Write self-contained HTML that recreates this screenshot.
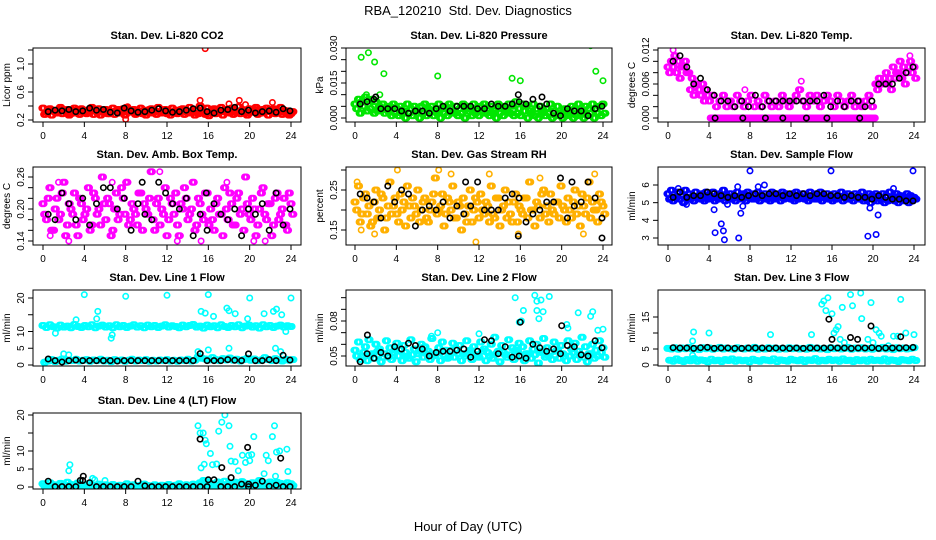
<!DOCTYPE html>
<html><head><meta charset="utf-8">
<style>
html,body{margin:0;padding:0;background:#fff;}
svg{display:block;font-family:"Liberation Sans",sans-serif;}
</style></head>
<body>
<svg id="chart" width="936" height="540" viewBox="0 0 936 540" xmlns="http://www.w3.org/2000/svg">
<rect width="936" height="540" fill="#fff"/>
<text x="468" y="15" font-size="13" text-anchor="middle">RBA_120210&#160; Std. Dev. Diagnostics</text>
<text x="468" y="531" font-size="13" text-anchor="middle">Hour of Day (UTC)</text>
</svg>
<script>
// ---- data ----
const hourTicks = [0,4,8,12,16,20,24];
const co2A = [0.37,0.31,0.36,0.34,0.30,0.38,0.33,0.35,0.29,0.37,0.32,0.36,0.34,0.30,0.38,0.33,0.36,0.31,0.35,0.29,0.37,0.33,0.30,0.36,0.38,0.32,0.35,0.30,0.37,0.34,0.31,0.36,0.33,0.38,0.30,0.35,0.32,0.37,0.34,0.30,0.36,0.33,0.38,0.31,0.35,0.40,0.33,0.37,0.30,0.36,0.34,0.38,0.32,0.35,0.37,0.31,0.39,0.34,0.30,0.36,0.33,0.38,0.31,0.35,0.37,0.32,0.36,0.30,0.38,0.34,0.33,0.29];
const co2B = [0.28,0.33,0.27,0.31,0.35,0.29,0.32,0.27,0.34,0.30,0.28,0.33,0.29,0.35,0.28,0.31,0.27,0.34,0.29,0.32,0.28,0.35,0.30,0.27,0.31,0.34,0.28,0.33,0.29,0.27,0.35,0.30,0.28,0.32,0.34,0.29,0.27,0.31,0.29,0.35,0.28,0.30,0.33,0.27,0.29,0.32,0.28,0.26,0.34,0.29,0.31,0.27,0.35,0.30,0.28,0.33,0.29,0.32,0.27,0.31,0.35,0.28,0.30,0.33,0.27,0.34,0.29,0.31,0.28,0.30,0.27,0.32];
const co2K = [0.32,0.34,0.33,0.35,0.32,0.33,0.37,0.34,0.35,0.31,0.30,0.37,0.33,0.31,0.32,0.34,0.36,0.33,0.31,0.32,0.34,0.36,0.37,0.32,0.30,0.34,0.35,0.38,0.32,0.34,0.30,0.32,0.33,0.31,0.36,0.33];
const co2Out = [[15.7,1.22],[8,0.21],[15.2,0.48],[18,0.43],[19,0.48],[22.2,0.45],[19.6,0.42],[8.2,0.39]];
const co2OutK = [];

const presA = [0.006,0.008,0.007,0.009,0.006,0.008,0.007,0.005,0.006,0.004,0.005,0.006,0.004,0.005,0.003,0.006,0.004,0.005,0.003,0.005,0.006,0.004,0.005,0.003,0.006,0.004,0.005,0.006,0.003,0.005,0.004,0.006,0.005,0.004,0.006,0.003,0.005,0.006,0.004,0.005,0.003,0.006,0.005,0.004,0.006,0.005,0.007,0.004,0.006,0.005,0.003,0.006,0.004,0.005,0.003,0.004,0.006,0.003,0.005,0.002,0.004,0.003,0.005,0.004,0.006,0.003,0.005,0.004,0.006,0.004,0.005,0.006];
const presB = [0.004,0.002,0.005,0.003,0.004,0.002,0.003,0.004,0.002,0.003,0.001,0.002,0.001,0.002,0.000,0.002,0.001,0.003,0.000,0.002,0.001,0.003,0.001,0.002,0.000,0.002,0.001,0.003,0.002,0.001,0.002,0.000,0.003,0.001,0.002,0.001,0.003,0.002,0.001,0.002,0.000,0.002,0.001,0.003,0.002,0.001,0.002,0.001,0.003,0.000,0.002,0.001,0.000,0.002,0.001,0.002,0.000,0.001,0.002,0.000,0.001,0.002,0.000,0.001,0.002,0.000,0.001,0.002,0.000,0.002,0.001,0.002];
const presK = [0.006,0.007,0.008,0.004,0.004,0.004,0.003,0.002,0.003,0.003,0.002,0.004,0.005,0.003,0.005,0.005,0.005,0.004,0.004,0.006,0.005,0.005,0.006,0.007,0.006,0.008,0.005,0.006,0.002,0.001,0.004,0.003,0.003,0.001,0.004,0.005];
const presOut = [[0.6,0.026],[1.3,0.028],[1.9,0.024],[2.8,0.019],[8.0,0.018],[15.2,0.017],[16,0.016],[22.8,0.031],[23.3,0.020],[24,0.016],[1.1,0.010],[2.4,0.010]];
const presOutK = [[15.8,0.010],[18.1,0.009],[2,0.009]];

const tempA = [0.009,0.010,0.011,0.010,0.009,0.010,0.008,0.007,0.006,0.005,0.006,0.005,0.003,0.004,0.002,0.003,0.004,0.002,0.003,0.002,0.004,0.003,0.002,0.003,0.004,0.002,0.003,0.002,0.004,0.003,0.002,0.003,0.002,0.004,0.003,0.002,0.003,0.004,0.005,0.003,0.002,0.004,0.003,0.004,0.002,0.003,0.004,0.003,0.002,0.004,0.003,0.002,0.003,0.004,0.002,0.003,0.002,0.003,0.004,0.002,0.006,0.007,0.006,0.008,0.007,0.009,0.008,0.010,0.009,0.008,0.010,0.009];
const tempB = [0.008,0.009,0.008,0.007,0.009,0.008,0.005,0.004,0.006,0.004,0.003,0.004,0,0,0,0,0,0,0,0,0,0,0,0,0,0,0,0,0,0,0,0,0,0,0,0,0,0,0,0,0,0,0,0,0,0,0,0,0,0,0,0,0,0,0,0,0,0,0,0,0.005,0.006,0.007,0.006,0.005,0.007,0.008,0.007,0.006,0.009,0.008,0.007];
const tempK = [0.010,0.011,0.009,0.006,0.007,0.005,0.004,0.003,0.003,0.002,0.003,0.002,0.004,0.002,0.003,0.003,0.003,0.003,0.003,0.003,0.003,0.003,0.004,0.002,0.003,0.002,0.003,0.003,0.002,0.003,0.006,0.006,0.006,0.007,0.008,0.009];
const tempOut = [[0.5,0.012],[3.8,0.005],[13,0.0065],[7.5,0.005],[23.6,0.011]];
const tempOutK = [[4.6,0],[7.3,0],[9.5,0],[11.2,0],[13.5,0],[15.5,0],[18.7,0]];

const ambA = [0.21,0.18,0.24,0.16,0.22,0.19,0.25,0.17,0.20,0.23,0.15,0.21,0.19,0.24,0.17,0.22,0.20,0.26,0.18,0.21,0.16,0.23,0.19,0.22,0.25,0.18,0.20,0.17,0.23,0.21,0.19,0.27,0.16,0.22,0.20,0.24,0.18,0.21,0.23,0.15,0.20,0.22,0.19,0.25,0.17,0.21,0.18,0.23,0.20,0.16,0.22,0.19,0.24,0.18,0.21,0.17,0.23,0.20,0.26,0.19,0.22,0.15,0.20,0.24,0.18,0.21,0.17,0.23,0.19,0.22,0.16,0.21];
const ambB = [0.19,0.22,0.16,0.20,0.18,0.23,0.15,0.21,0.19,0.17,0.22,0.18,0.20,0.16,0.23,0.19,0.17,0.21,0.22,0.15,0.20,0.18,0.24,0.19,0.17,0.21,0.19,0.23,0.16,0.20,0.22,0.18,0.21,0.17,0.19,0.15,0.22,0.19,0.17,0.21,0.24,0.18,0.20,0.16,0.22,0.19,0.23,0.17,0.18,0.21,0.19,0.15,0.20,0.23,0.17,0.22,0.19,0.16,0.21,0.18,0.20,0.17,0.23,0.19,0.21,0.15,0.22,0.18,0.20,0.17,0.23,0.19];
const ambK = [0.19,0.18,0.23,0.21,0.18,0.22,0.17,0.21,0.24,0.24,0.20,0.22,0.16,0.21,0.19,0.18,0.25,0.23,0.21,0.20,0.22,0.15,0.19,0.16,0.21,0.19,0.18,0.20,0.15,0.20,0.19,0.21,0.16,0.23,0.17,0.20];
const ambOut = [[0.7,0.15],[1.5,0.25],[2.5,0.14],[6.7,0.25],[8,0.25],[11.3,0.27],[13,0.14],[15.3,0.14],[17.8,0.25],[20.4,0.14],[21.5,0.14],[0.6,0.24]];
const ambOutK = [[9.6,0.25],[15.8,0.23]];

const rhA = [0.22,0.26,0.19,0.24,0.21,0.17,0.25,0.20,0.23,0.18,0.27,0.21,0.19,0.24,0.22,0.26,0.18,0.21,0.25,0.20,0.23,0.17,0.22,0.28,0.20,0.24,0.19,0.22,0.26,0.18,0.21,0.23,0.17,0.25,0.20,0.22,0.24,0.19,0.21,0.26,0.18,0.23,0.20,0.25,0.22,0.17,0.24,0.21,0.19,0.23,0.27,0.20,0.22,0.18,0.25,0.21,0.24,0.19,0.22,0.26,0.20,0.23,0.18,0.25,0.21,0.24,0.19,0.27,0.22,0.20,0.24,0.21];
const rhB = [0.20,0.17,0.23,0.19,0.16,0.22,0.18,0.24,0.15,0.21,0.19,0.23,0.17,0.20,0.16,0.21,0.23,0.19,0.17,0.22,0.18,0.20,0.24,0.19,0.21,0.16,0.23,0.20,0.18,0.22,0.15,0.19,0.21,0.17,0.23,0.18,0.20,0.22,0.17,0.19,0.23,0.16,0.21,0.18,0.19,0.22,0.17,0.20,0.23,0.18,0.20,0.16,0.21,0.24,0.19,0.17,0.20,0.22,0.18,0.21,0.17,0.20,0.22,0.19,0.16,0.21,0.23,0.18,0.20,0.17,0.22,0.19];
const rhK = [0.24,0.23,0.22,0.18,0.26,0.22,0.25,0.24,0.16,0.20,0.21,0.20,0.22,0.18,0.21,0.19,0.21,0.27,0.20,0.20,0.20,0.23,0.24,0.23,0.17,0.19,0.20,0.22,0.22,0.28,0.18,0.21,0.22,0.27,0.23,0.18];
const rhOut = [[11.7,0.12],[15.8,0.14],[0.2,0.27],[4.1,0.30],[8.1,0.30],[9.3,0.29],[13,0.29],[23.2,0.29],[17.9,0.28],[1.9,0.14],[0.6,0.15],[22.1,0.14]];
const rhOutK = [[23.9,0.13],[15.8,0.135],[10.7,0.27],[21,0.27]];

const flowA = [5.5,5.7,5.3,5.6,5.4,5.7,5.5,5.3,5.6,5.4,5.5,5.6,5.4,5.6,5.3,5.5,5.7,5.4,5.5,5.3,5.6,5.4,5.5,5.6,5.3,5.5,5.6,5.4,5.5,5.3,5.6,5.5,5.4,5.6,5.5,5.3,5.5,5.6,5.4,5.5,5.3,5.6,5.4,5.5,5.6,5.4,5.5,5.3,5.5,5.4,5.6,5.4,5.5,5.3,5.5,5.4,5.6,5.3,5.5,5.4,5.5,5.3,5.5,5.4,5.6,5.3,5.5,5.4,5.3,5.5,5.4,5.3];
const flowB = [5.2,5.1,5.3,5.2,5.0,5.3,5.2,5.1,5.3,5.2,5.1,5.2,5.3,5.1,5.2,5.3,5.1,5.2,5.2,5.1,5.3,5.2,5.1,5.3,5.2,5.2,5.1,5.3,5.2,5.1,5.2,5.3,5.1,5.2,5.3,5.2,5.1,5.2,5.3,5.2,5.1,5.3,5.2,5.2,5.1,5.3,5.2,5.1,5.2,5.3,5.1,5.2,5.2,5.1,5.3,5.2,5.1,5.2,5.0,5.2,5.1,5.2,5.0,5.1,5.2,5.1,5.0,5.2,5.1,5.0,5.1,5.2];
const flowK = [5.3,5.6,5.3,5.4,5.4,5.6,5.5,5.4,5.3,5.4,5.3,5.4,5.5,5.4,5.5,5.5,5.4,5.5,5.4,5.5,5.4,5.5,5.5,5.4,5.4,5.3,5.4,5.3,5.3,5.2,5.4,5.3,5.2,5.2,5.1,5.1];
const flowOut = [[4.5,4.6],[4.6,3.3],[5.2,3.8],[5.4,3.4],[5.5,2.9],[5.8,4.9],[6.9,3.0],[7.1,4.4],[7.3,4.8],[8,6.8],[9.4,6.0],[15.9,6.8],[19.5,3.1],[19.7,4.7],[20.3,3.2],[20.5,4.3],[23.9,6.8],[6.8,5.9],[22,5.8],[1.8,4.9],[1.0,5.8],[8.8,5.9]];
const flowOutK = [];

const l1A = [11.8,11.2,12.0,11.4,11.0,11.9,11.3,11.6,11.1,12.1,11.5,11.2,11.8,11.4,12.0,11.1,11.6,11.9,11.3,11.7,11.1,12.0,11.4,11.8,11.2,11.6,12.0,11.3,11.7,11.1,11.9,11.4,11.8,11.2,11.6,12.0,11.3,11.7,11.5,11.1,11.9,11.4,11.8,12.1,11.3,11.6,11.0,11.9,11.4,11.7,11.1,12.0,11.5,11.2,11.8,11.4,12.0,11.1,11.6,11.9,11.3,11.7,11.0,12.0,11.4,11.8,11.2,11.6,11.9,11.3,11.7,11.5];
const l1B = [0.8,1.2,1.6,1.0,1.4,1.8,1.1,1.5,1.3,1.7,1.2,1.4,1.6,1.1,1.5,1.3,1.7,1.2,1.4,1.0,1.6,1.3,1.5,1.1,1.4,1.7,1.2,1.5,1.3,1.6,1.1,1.4,1.2,1.5,1.3,1.6,1.2,1.4,1.1,1.5,1.3,1.7,1.2,1.4,2.5,2.0,1.8,1.5,2.2,1.6,1.3,1.9,1.5,2.1,1.4,1.7,1.2,1.6,2.0,1.4,1.8,1.3,1.5,2.2,1.6,1.3,1.9,1.5,1.2,1.7,1.4,1.6];
const l1K = [1.8,1.3,0.9,1.3,1.5,1.3,1.3,1.3,1.3,1.3,1.2,1.3,1.3,1.3,1.3,1.3,1.3,1.3,1.3,1.3,1.3,1.3,3.4,1.3,1.3,1.3,1.6,1.4,1.3,3.3,1.3,1.3,1.6,1.3,2.9,1.5];
const l1Out = [[4,21],[8,20.5],[12,20.8],[16,21],[20,20],[24,20],[5.3,16],[15.3,16],[15.7,15.5],[17.8,17],[18,16.2],[18.6,15.3],[21.4,15.3],[22.3,16],[22.6,16.7],[23.1,15],[3.2,13.5],[5.2,13.8],[6.7,9],[6.6,8],[1.2,9.5],[23.5,10],[16.5,14.5],[19.8,13.8],[2,3.3],[2.5,3],[15,4],[16,4.5],[18,5],[22.5,5],[23,4]];
const l1OutK = [];

const l2A = [0.055,0.062,0.050,0.058,0.064,0.052,0.060,0.056,0.049,0.063,0.057,0.053,0.061,0.055,0.059,0.050,0.064,0.056,0.052,0.060,0.058,0.054,0.065,0.051,0.057,0.062,0.055,0.049,0.061,0.056,0.059,0.052,0.063,0.055,0.058,0.050,0.062,0.056,0.053,0.060,0.066,0.054,0.059,0.051,0.064,0.057,0.055,0.061,0.058,0.052,0.063,0.056,0.060,0.054,0.065,0.057,0.053,0.062,0.055,0.059,0.050,0.063,0.056,0.061,0.054,0.066,0.058,0.052,0.060,0.055,0.063,0.057];
const l2B = [0.050,0.047,0.053,0.046,0.051,0.048,0.054,0.045,0.052,0.049,0.047,0.055,0.050,0.046,0.053,0.048,0.051,0.045,0.054,0.049,0.052,0.047,0.050,0.053,0.046,0.051,0.048,0.055,0.049,0.052,0.046,0.050,0.053,0.047,0.051,0.049,0.054,0.046,0.050,0.048,0.052,0.045,0.053,0.049,0.051,0.047,0.054,0.050,0.046,0.052,0.048,0.051,0.044,0.053,0.049,0.050,0.047,0.054,0.048,0.052,0.046,0.050,0.053,0.047,0.051,0.049,0.045,0.052,0.048,0.050,0.053,0.049];
const l2K = [0.045,0.052,0.048,0.053,0.050,0.058,0.056,0.061,0.059,0.056,0.050,0.053,0.054,0.054,0.055,0.056,0.049,0.054,0.064,0.063,0.052,0.058,0.049,0.050,0.048,0.060,0.057,0.054,0.056,0.052,0.059,0.058,0.051,0.050,0.063,0.057];
const l2Out = [[15.5,0.100],[17.4,0.102],[17.6,0.097],[18,0.098],[18.2,0.088],[18.8,0.101],[16.3,0.089],[17.6,0.089],[17.8,0.082],[21.6,0.087],[22.8,0.084],[23,0.088],[16.1,0.080],[15.9,0.079],[20.5,0.077],[20.6,0.074],[23.5,0.072],[24,0.073],[8,0.070],[12,0.069],[7.4,0.067]];
const l2OutK = [[16,0.079],[1.2,0.068],[20,0.076]];

const l3A = [5.2,5.0,5.4,4.9,5.3,5.1,5.5,5.0,5.2,4.8,5.4,5.1,5.3,4.9,5.2,5.5,5.0,5.3,5.1,4.9,5.4,5.2,5.0,5.3,5.1,5.5,4.9,5.2,5.0,5.4,5.1,5.3,4.9,5.2,5.0,5.4,5.1,5.3,5.0,5.2,4.9,5.5,5.1,5.3,5.0,5.2,4.8,5.4,5.1,5.3,5.0,5.2,5.5,4.9,5.3,5.1,5.4,5.0,5.2,4.9,5.3,5.1,5.5,5.0,5.2,4.8,5.4,5.1,5.3,5.0,5.2,5.4];
const l3B = [1.5,1.2,1.9,1.4,1.1,1.7,1.3,2.0,1.2,1.6,1.4,1.0,1.8,1.3,1.5,1.1,1.7,1.4,1.9,1.2,1.6,1.3,1.5,1.0,1.8,1.4,1.2,1.7,1.5,1.3,1.9,1.1,1.6,1.4,1.2,1.8,1.5,1.3,1.7,1.1,1.6,1.4,2.0,1.2,1.5,1.3,1.8,1.4,1.6,1.2,1.9,1.4,1.5,1.1,1.7,1.3,1.6,1.2,1.8,1.4,1.5,1.3,1.9,1.2,1.6,1.4,1.1,1.7,1.5,1.3,1.8,1.4];
const l3K = [5.4,5.3,5.3,5.2,5.4,5.5,5.2,5.3,5.3,5.2,5.2,5.3,5.3,5.3,5.2,5.3,5.3,5.2,5.3,5.2,5.3,5.3,5.3,5.4,5.3,5.3,5.2,5.3,5.3,5.4,5.2,5.3,5.3,5.3,5.4,5.5];
const l3Out = [[15,19],[15.2,20],[15.4,17],[15.6,21],[16,16],[16.2,10],[16.4,11],[16.6,12],[17,18],[17.8,22],[18,18.5],[18.8,22.5],[18.9,14.5],[19.5,8],[20,7],[20.3,11],[20.6,10],[19.8,19.5],[20.8,9],[21.5,6],[22,9],[22.4,9],[22.7,20.5],[23.2,10],[24,9.5],[2.5,10.3],[2.4,7.5],[4,10],[10,9.5],[14,9.5],[2.4,3],[16.8,8],[17.2,7]];
const l3OutK = [[15.7,14.3],[16,8],[17.8,8.6],[18.5,8],[19.8,12.2],[22.7,8.8]];

const l4A = [0.9,0.4,1.2,0.6,0.3,1.0,0.5,1.3,0.7,0.4,1.1,0.6,0.3,0.9,0.5,0.2,0.8,0.4,0.6,0.3,0.7,0.2,0.5,0.4,0.9,0.3,0.6,0.2,0.5,0.8,0.4,0.3,0.6,0.2,0.5,0.4,0.7,0.3,0.5,0.9,0.4,0.6,0.3,0.8,0.5,1.2,1.8,1.5,1.0,0.7,1.4,0.9,1.6,0.6,1.1,1.3,0.8,1.5,1.0,0.7,1.2,0.9,1.8,0.6,1.1,1.4,0.8,1.3,1.0,0.7,1.2,0.9];
const l4B = [0.3,0.1,0.5,0.2,0.0,0.4,0.1,0.3,0.2,0.0,0.4,0.1,0.2,0.0,0.3,0.1,0.2,0.0,0.3,0.1,0.2,0.0,0.1,0.2,0.0,0.1,0.2,0.0,0.1,0.3,0.0,0.1,0.2,0.0,0.1,0.2,0.0,0.1,0.3,0.0,0.2,0.1,0.0,0.2,0.1,0.4,0.2,0.5,0.3,0.1,0.4,0.2,0.6,0.3,0.1,0.5,0.2,0.4,0.3,0.1,0.5,0.2,0.4,0.1,0.3,0.6,0.2,0.4,0.1,0.3,0.2,0.4];
const l4K = [1.6,0.1,0.1,0.1,0.1,1.8,1.2,0.1,0.1,0.1,0.1,0.1,0.1,1.6,0.3,0.1,0.1,0.1,0.1,0.1,0.1,0.1,0.1,0.1,2.0,0.1,0.1,0.1,0.8,0.1,0.5,1.6,0.2,0.5,0.1,0.1];
const l4Out = [[2.6,6.2],[2.5,4.5],[4.8,2.4],[5,2],[6,1.8],[15,17],[15.2,15],[15.5,15],[15.7,13],[15.8,12],[16.2,9.3],[15.3,5.3],[15.6,6.3],[16.4,6.2],[16.8,6.4],[17,15.5],[17.3,18],[17.6,20],[18,17],[18.1,11.3],[18.2,7.2],[18.6,7],[18.9,4.5],[19.3,8.8],[19.6,6.8],[19.9,8.8],[20,7.3],[20.2,9],[20.4,14],[21.6,8.8],[21.8,7.3],[22.2,14],[22.4,17],[22.6,9.7],[22.9,10],[23.6,10.5],[23.7,4.3],[21.4,3.7],[22.5,3]];
const l4OutK = [[15.2,13.3],[16,2],[17.3,5.4],[18.2,2.6],[19.8,11],[23,8],[3.9,3],[3.6,1.8],[19.9,0.8]];

// ---- layout ----
const cols=[{L:33,R:301,x0:43,x24:291},{L:346,R:612,x0:355,x24:603},{L:658,R:925,x0:668,x24:914}];
const rows=[{T:48,B:122},{T:167,B:245},{T:290,B:366},{T:413,B:489}];
const panels=[
 {name:'co2',title:'Stan. Dev. Li-820 CO2',ylab:'Licor ppm',c:0,r:0,col:'#ff0000',v1:0.2,p1:120,v2:1.0,p2:64,ticks:[0.2,0.4,0.6,0.8,1.0,1.2],labels:['0.2','','0.6','','1.0',''],A:co2A,B:co2B,K:co2K,O:co2Out,OK:co2OutK},
 {name:'pressure',title:'Stan. Dev. Li-820 Pressure',ylab:'kPa',c:1,r:0,col:'#00e600',v1:0,p1:118,v2:0.03,p2:48,ticks:[0,0.005,0.01,0.015,0.02,0.025,0.03],labels:['0.000','','','0.015','','','0.030'],A:presA,B:presB,K:presK,O:presOut,OK:presOutK},
 {name:'temp',title:'Stan. Dev. Li-820 Temp.',ylab:'degrees C',c:2,r:0,col:'#ff00ff',v1:0,p1:118,v2:0.012,p2:50,ticks:[0,0.002,0.004,0.006,0.008,0.01,0.012],labels:['0.000','','','0.006','','','0.012'],A:tempA,B:tempB,K:tempK,O:tempOut,OK:tempOutK},
 {name:'amb-box-temp',title:'Stan. Dev. Amb. Box Temp.',ylab:'degrees C',c:0,r:1,col:'#ff00ff',v1:0.14,p1:241,v2:0.26,p2:177,ticks:[0.14,0.16,0.18,0.2,0.22,0.24,0.26],labels:['0.14','','','0.20','','','0.26'],A:ambA,B:ambB,K:ambK,O:ambOut,OK:ambOutK},
 {name:'gas-rh',title:'Stan. Dev. Gas Stream RH',ylab:'percent',c:1,r:1,col:'#ffb000',v1:0.15,p1:230,v2:0.25,p2:190,ticks:[0.1,0.15,0.2,0.25,0.3],labels:['','0.15','','0.25',''],A:rhA,B:rhB,K:rhK,O:rhOut,OK:rhOutK},
 {name:'sample-flow',title:'Stan. Dev. Sample Flow',ylab:'ml/min',c:2,r:1,col:'#0000ff',v1:3,p1:238,v2:6,p2:185,ticks:[3,4,5,6],labels:['3','4','5','6'],A:flowA,B:flowB,K:flowK,O:flowOut,OK:flowOutK},
 {name:'line1-flow',title:'Stan. Dev. Line 1 Flow',ylab:'ml/min',c:0,r:2,col:'#00ffff',v1:0,p1:365,v2:20,p2:298,ticks:[0,5,10,15,20],labels:['0','5','10','','20'],A:l1A,B:l1B,K:l1K,O:l1Out,OK:l1OutK},
 {name:'line2-flow',title:'Stan. Dev. Line 2 Flow',ylab:'ml/min',c:1,r:2,col:'#00ffff',v1:0.05,p1:356,v2:0.08,p2:321,ticks:[0.05,0.06,0.07,0.08,0.09,0.1],labels:['0.05','','','0.08','',''],A:l2A,B:l2B,K:l2K,O:l2Out,OK:l2OutK},
 {name:'line3-flow',title:'Stan. Dev. Line 3 Flow',ylab:'ml/min',c:2,r:2,col:'#00ffff',v1:0,p1:365,v2:15,p2:317,ticks:[0,5,10,15],labels:['0','5','','15'],A:l3A,B:l3B,K:l3K,O:l3Out,OK:l3OutK},
 {name:'line4-flow',title:'Stan. Dev. Line 4 (LT) Flow',ylab:'ml/min',c:0,r:3,col:'#00ffff',v1:0,p1:487,v2:20,p2:415,ticks:[0,5,10,15,20],labels:['0','5','10','','20'],A:l4A,B:l4B,K:l4K,O:l4Out,OK:l4OutK}
];
const NS='http://www.w3.org/2000/svg';
const svg=document.getElementById('chart');
function mk(tag,attrs,parent){const e=document.createElementNS(NS,tag);for(const k in attrs)e.setAttribute(k,attrs[k]);(parent||svg).appendChild(e);return e;}
const smear=[-0.11,0,0.11];
panels.forEach(p=>{
 const C=cols[p.c],R=rows[p.r];
 const g=mk('g',{});
 
 
 const xs=h=>C.x0+(C.x24-C.x0)*h/24;
 const ys=v=>p.p1+(v-p.v1)*(p.p2-p.p1)/(p.v2-p.v1);
 const clip='clip-'+p.name;
 const cp=mk('clipPath',{id:clip},g);mk('rect',{x:C.L,y:R.T,width:C.R-C.L,height:R.B-R.T},cp);
 const pts=mk('g',{'clip-path':'url(#'+clip+')'},g);
 const dot=(h,v,color,nm)=>{if(v===null||v===undefined)return;const c=mk('circle',{cx:xs(h).toFixed(1),cy:ys(v).toFixed(1),r:2.7,fill:'none',stroke:color,'stroke-width':1.6},pts);
  
  };
 const nA=p.A.length;
 p.A.forEach((v,i)=>smear.forEach(d=>dot(i*24/(nA-1)+d,v,p.col,'point-'+p.name)));
 p.B.forEach((v,i)=>smear.forEach(d=>dot(i*24/(p.B.length-1)+0.17+d,v,p.col,'point-'+p.name)));
 p.O.forEach(o=>dot(o[0],o[1],p.col,'outlier-'+p.name));
 p.K.forEach((v,i)=>dot(0.5+i*23.4/(p.K.length-1),v,'#000','mean-point-'+p.name));
 p.OK.forEach(o=>dot(o[0],o[1],'#000','mean-point-'+p.name));
 const box=mk('rect',{x:C.L,y:R.T,width:C.R-C.L,height:R.B-R.T,fill:'none',stroke:'#000','stroke-width':1},g);
 
 
 const t=mk('text',{x:(C.L+C.R)/2,y:R.T-9,'font-size':11,'font-weight':'bold','text-anchor':'middle'},g);t.textContent=p.title;
 
 
 hourTicks.forEach(h=>{mk('line',{x1:xs(h),x2:xs(h),y1:R.B,y2:R.B+5,stroke:'#000'},g);
  const lb=mk('text',{x:xs(h),y:R.B+17,'font-size':10,'text-anchor':'middle'},g);lb.textContent=h;
  
  });
 mk('line',{x1:xs(0),x2:xs(24),y1:R.B,y2:R.B,stroke:'#000'},g);
 p.ticks.forEach((v,i)=>{const y=ys(v);if(y<R.T-1||y>R.B+1)return;mk('line',{x1:C.L-5,x2:C.L,y1:y,y2:y,stroke:'#000'},g);
  if(p.labels[i]){const lb=mk('text',{x:0,y:0,'font-size':10,'text-anchor':'middle',transform:`translate(${C.L-9},${y}) rotate(-90)`},g);lb.textContent=p.labels[i];
  
  }});
 const yl=mk('text',{x:0,y:0,'font-size':10,'text-anchor':'middle',transform:`translate(${C.L-23},${(R.T+R.B)/2}) rotate(-90)`},g);yl.textContent=p.ylab;
 
 
});
</script>
</body></html>
